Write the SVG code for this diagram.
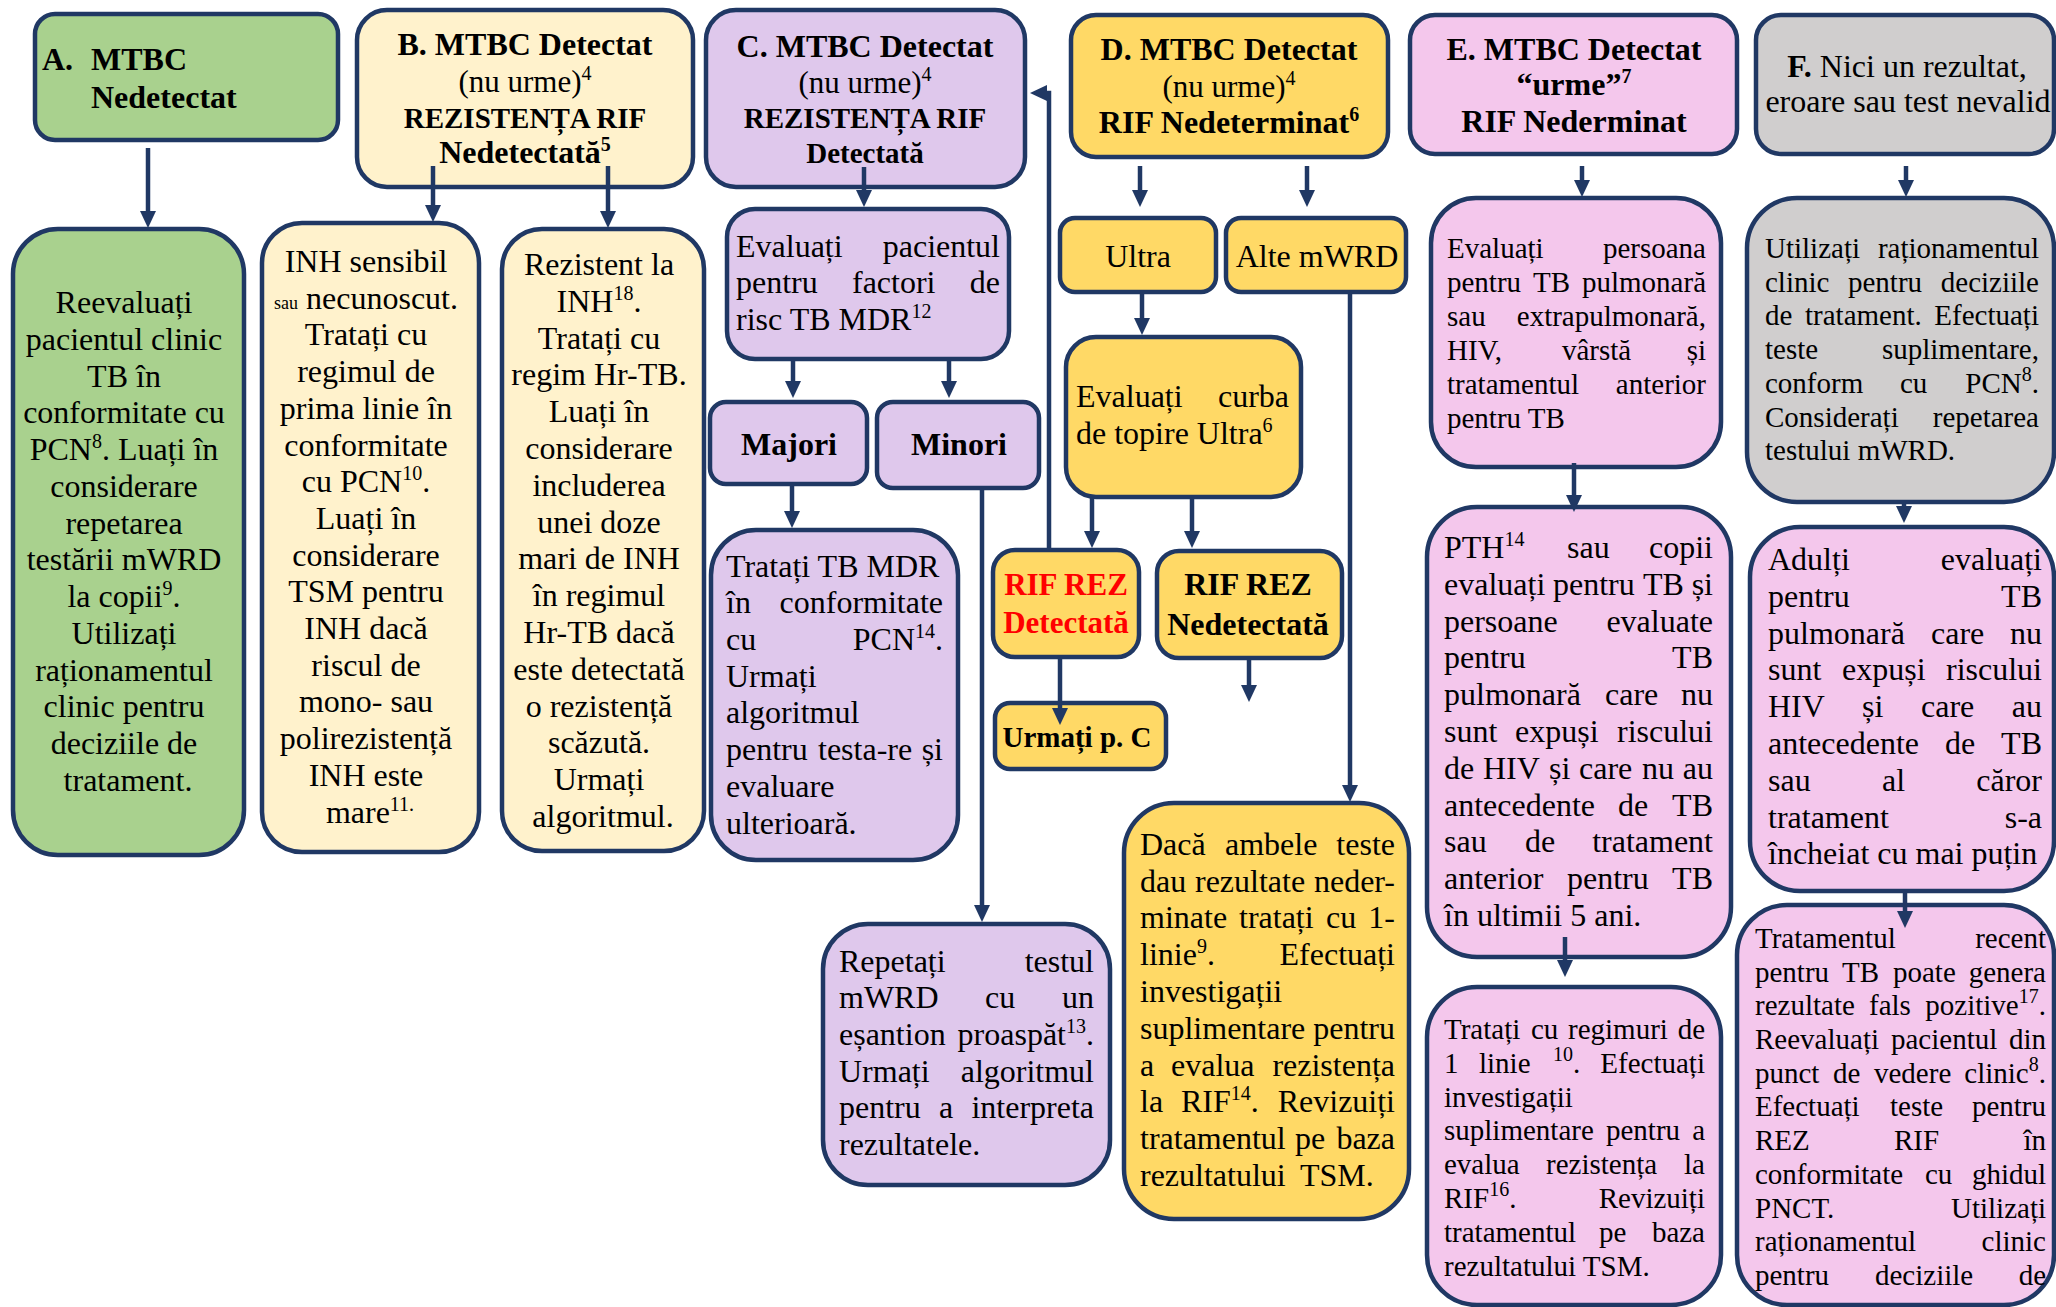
<svg xmlns="http://www.w3.org/2000/svg" width="2056" height="1307" viewBox="0 0 2056 1307">
<defs>
<style>
text{font-family:"Liberation Serif","Times New Roman",serif;font-size:32px;fill:#000}
.box{stroke:#203864;stroke-width:4.5}
.a{fill:#A9D18E}.bb{fill:#FFF2CC}.cc{fill:#DFC8EC}.d{fill:#FFD966}.ee{fill:#F4C7EC}.f{fill:#D0CECE}
.b{font-weight:bold}
.m{text-anchor:middle}
.r{text-anchor:end}
.s{font-size:20px}
.f29{font-size:29px}
.f31{font-size:31px}
.red{fill:#FF0000}
.sm{font-size:18px}
#connectors path{fill:none;stroke:#203864;stroke-width:4.5;marker-end:url(#ah)}
</style>
<marker id="ah" viewBox="0 0 17 16" refX="7" refY="8" markerWidth="17" markerHeight="16" markerUnits="userSpaceOnUse" orient="auto"><path d="M0,0 L17,8 L0,16 z" fill="#203864"/></marker>
</defs>
<rect width="2056" height="1307" fill="#FFFFFF"/>

<g id="A">
<rect class="box a" x="35" y="14" width="303" height="126" rx="20"/>
<text class="b" x="42" y="70">A.</text><text class="b" x="91" y="70">MTBC</text>
<text class="b" x="91" y="108">Nedetectat</text>
</g>
<g id="A1">
<rect class="box a" x="13" y="229" width="231" height="626" rx="45"/>
<text class="m">
<tspan x="128" y="313">Reevaluați</tspan>
<tspan x="128" y="350">pacientul clinic</tspan>
<tspan x="128" y="387">TB în</tspan>
<tspan x="128" y="423">conformitate cu</tspan>
<tspan x="128" y="460">PCN<tspan class="s" dy="-12">8</tspan><tspan dy="12">. Luați în</tspan></tspan>
<tspan x="128" y="497">considerare</tspan>
<tspan x="128" y="534">repetarea</tspan>
<tspan x="128" y="570">testării mWRD</tspan>
<tspan x="128" y="607">la copii<tspan class="s" dy="-12">9</tspan><tspan dy="12">.</tspan></tspan>
<tspan x="128" y="644">Utilizați</tspan>
<tspan x="128" y="681">raționamentul</tspan>
<tspan x="128" y="717">clinic pentru</tspan>
<tspan x="128" y="754">deciziile de</tspan>
<tspan x="128" y="791">tratament.</tspan>
</text>
</g>

<g id="B">
<rect class="box bb" x="357" y="10" width="336" height="177" rx="30"/>
<text class="m b" x="525" y="55">B. MTBC Detectat</text>
<text class="m f31" x="525" y="92">(nu urme)<tspan class="s" dy="-12">4</tspan></text>
<text class="m b f29" x="525" y="128">REZISTENȚA RIF</text>
<text class="m b" x="525" y="163">Nedetectată<tspan class="s" dy="-12">5</tspan></text>
</g>
<g id="B1">
<rect class="box bb" x="262" y="223" width="217" height="629" rx="40"/>
<text class="m">
<tspan x="370" y="272">INH sensibil</tspan>
<tspan x="370" y="309"><tspan class="sm">sau</tspan> necunoscut.</tspan>
<tspan x="370" y="345">Tratați cu</tspan>
<tspan x="370" y="382">regimul de</tspan>
<tspan x="370" y="419">prima linie în</tspan>
<tspan x="370" y="456">conformitate</tspan>
<tspan x="370" y="492">cu PCN<tspan class="s" dy="-12">10</tspan><tspan dy="12">.</tspan></tspan>
<tspan x="370" y="529">Luați în</tspan>
<tspan x="370" y="566">considerare</tspan>
<tspan x="370" y="602">TSM pentru</tspan>
<tspan x="370" y="639">INH dacă</tspan>
<tspan x="370" y="676">riscul de</tspan>
<tspan x="370" y="712">mono- sau</tspan>
<tspan x="370" y="749">polirezistență</tspan>
<tspan x="370" y="786">INH este</tspan>
<tspan x="370" y="823">mare<tspan class="s" dy="-12">11.</tspan></tspan>
</text>
</g>
<g id="B2">
<rect class="box bb" x="502" y="229" width="202" height="622" rx="40"/>
<text class="m">
<tspan x="603" y="275">Rezistent la</tspan>
<tspan x="603" y="312">INH<tspan class="s" dy="-12">18</tspan><tspan dy="12">.</tspan></tspan>
<tspan x="603" y="349">Tratați cu</tspan>
<tspan x="603" y="385">regim Hr-TB.</tspan>
<tspan x="603" y="422">Luați în</tspan>
<tspan x="603" y="459">considerare</tspan>
<tspan x="603" y="496">includerea</tspan>
<tspan x="603" y="533">unei doze</tspan>
<tspan x="603" y="569">mari de INH</tspan>
<tspan x="603" y="606">în regimul</tspan>
<tspan x="603" y="643">Hr-TB dacă</tspan>
<tspan x="603" y="680">este detectată</tspan>
<tspan x="603" y="717">o rezistență</tspan>
<tspan x="603" y="753">scăzută.</tspan>
<tspan x="603" y="790">Urmați</tspan>
<tspan x="603" y="827">algoritmul.</tspan>
</text>
</g>

<g id="C">
<rect class="box cc" x="706" y="10" width="319" height="177" rx="30"/>
<text class="m b" x="865" y="57">C. MTBC Detectat</text>
<text class="m f31" x="865" y="93">(nu urme)<tspan class="s" dy="-12">4</tspan></text>
<text class="m b f29" x="865" y="128">REZISTENȚA RIF</text>
<text class="m b f29" x="865" y="163">Detectată</text>
</g>
<g id="C1">
<rect class="box cc" x="727" y="209" width="282" height="150" rx="28"/>
<text x="736" y="257">Evaluați</text><text class="r" x="1000" y="257">pacientul</text>
<text x="736" y="293">pentru</text><text x="852" y="293">factori</text><text class="r" x="1000" y="293">de</text>
<text x="736" y="330">risc TB MDR<tspan class="s" dy="-12">12</tspan></text>
</g>
<g id="C2">
<rect class="box cc" x="710" y="402" width="157" height="82" rx="16"/>
<text class="m b" x="789" y="455">Majori</text>
</g>
<g id="C3">
<rect class="box cc" x="877" y="402" width="162" height="86" rx="16"/>
<text class="m b" x="959" y="455">Minori</text>
</g>
<g id="C4">
<rect class="box cc" x="711" y="530" width="247" height="330" rx="45"/>
<text x="726" y="577">Tratați TB MDR</text>
<text x="726" y="613">în</text><text class="r" x="943" y="613">conformitate</text>
<text x="726" y="650">cu</text><text class="r" x="943" y="650">PCN<tspan class="s" dy="-12">14</tspan><tspan dy="12">.</tspan></text>
<text x="726" y="687">Urmați</text>
<text x="726" y="723">algoritmul</text>
<text x="726" y="760">pentru</text><text x="818" y="760">testa-re</text><text class="r" x="943" y="760">și</text>
<text x="726" y="797">evaluare</text>
<text x="726" y="834">ulterioară.</text>
</g>
<g id="C5">
<rect class="box cc" x="823" y="924" width="287" height="261" rx="45"/>
<text x="839" y="972">Repetați</text><text class="r" x="1094" y="972">testul</text>
<text x="839" y="1008">mWRD</text><text x="985" y="1008">cu</text><text class="r" x="1094" y="1008">un</text>
<text x="839" y="1045">eșantion</text><text class="r" x="1094" y="1045">proaspăt<tspan class="s" dy="-12">13</tspan><tspan dy="12">.</tspan></text>
<text x="839" y="1082">Urmați</text><text class="r" x="1094" y="1082">algoritmul</text>
<text x="839" y="1118">pentru</text><text x="939" y="1118">a</text><text class="r" x="1094" y="1118">interpreta</text>
<text x="839" y="1155">rezultatele.</text>
</g>

<g id="D">
<rect class="box d" x="1071" y="15" width="317" height="142" rx="25"/>
<text class="m b" x="1229" y="60">D. MTBC Detectat</text>
<text class="m f31" x="1229" y="97">(nu urme)<tspan class="s" dy="-12">4</tspan></text>
<text class="m b" x="1229" y="133">RIF Nedeterminat<tspan class="s" dy="-12">6</tspan></text>
</g>
<g id="D1">
<rect class="box d" x="1060" y="218" width="156" height="74" rx="15"/>
<text class="m" x="1138" y="267">Ultra</text>
</g>
<g id="D2">
<rect class="box d" x="1226" y="218" width="180" height="74" rx="15"/>
<text class="m" x="1317" y="267">Alte mWRD</text>
</g>
<g id="D3">
<rect class="box d" x="1066" y="337" width="235" height="160" rx="30"/>
<text x="1076" y="407">Evaluați</text><text class="r" x="1289" y="407">curba</text>
<text x="1076" y="444">de topire Ultra<tspan class="s" dy="-12">6</tspan></text>
</g>
<g id="D4">
<rect class="box d" x="993" y="550" width="146" height="107" rx="22"/>
<text class="m b f31 red" x="1066" y="595">RIF REZ</text>
<text class="m b f31 red" x="1066" y="633">Detectată</text>
</g>
<g id="D5">
<rect class="box d" x="1157" y="551" width="185" height="107" rx="22"/>
<text class="m b" x="1248" y="595">RIF REZ</text>
<text class="m b" x="1248" y="635">Nedetectată</text>
</g>
<g id="D6">
<rect class="box d" x="995" y="703" width="171" height="66" rx="15"/>
<text class="m b f29" x="1077" y="747">Urmați p. C</text>
</g>
<g id="D7">
<rect class="box d" x="1124" y="803" width="285" height="416" rx="50"/>
<text x="1140" y="855">Dacă</text><text x="1225" y="855">ambele</text><text class="r" x="1395" y="855">teste</text>
<text x="1140" y="892">dau</text><text x="1195" y="892">rezultate</text><text class="r" x="1395" y="892">neder-</text>
<text x="1140" y="928">minate</text><text x="1239" y="928">tratați</text><text x="1326" y="928">cu</text><text class="r" x="1395" y="928">1-</text>
<text x="1140" y="965">linie<tspan class="s" dy="-12">9</tspan><tspan dy="12">.</tspan></text><text class="r" x="1395" y="965">Efectuați</text>
<text x="1140" y="1002">investigații</text>
<text x="1140" y="1039">suplimentare</text><text class="r" x="1395" y="1039">pentru</text>
<text x="1140" y="1076">a</text><text x="1171" y="1076">evalua</text><text class="r" x="1395" y="1076">rezistența</text>
<text x="1140" y="1112">la</text><text x="1181" y="1112">RIF<tspan class="s" dy="-12">14</tspan><tspan dy="12">.</tspan></text><text class="r" x="1395" y="1112">Revizuiți</text>
<text x="1140" y="1149">tratamentul</text><text x="1295" y="1149">pe</text><text class="r" x="1395" y="1149">baza</text>
<text x="1140" y="1186">rezultatului</text><text x="1300" y="1186">TSM.</text>
</g>

<g id="E">
<rect class="box ee" x="1410" y="15" width="327" height="139" rx="25"/>
<text class="m b" x="1574" y="60">E. MTBC Detectat</text>
<text class="m b" x="1574" y="95">“urme”<tspan class="s" dy="-12">7</tspan></text>
<text class="m b" x="1574" y="132">RIF Nederminat</text>
</g>
<g id="E1">
<rect class="box ee" x="1431" y="198" width="290" height="269" rx="45"/>
<text class="f29" x="1447" y="258">Evaluați</text><text class="f29 r" x="1706" y="258">persoana</text>
<text class="f29" x="1447" y="292">pentru</text><text class="f29" x="1533" y="292">TB</text><text class="f29 r" x="1706" y="292">pulmonară</text>
<text class="f29" x="1447" y="326">sau</text><text class="f29 r" x="1706" y="326">extrapulmonară,</text>
<text class="f29" x="1447" y="360">HIV,</text><text class="f29" x="1562" y="360">vârstă</text><text class="f29 r" x="1706" y="360">și</text>
<text class="f29" x="1447" y="394">tratamentul</text><text class="f29 r" x="1706" y="394">anterior</text>
<text class="f29" x="1447" y="428">pentru TB</text>
</g>
<g id="E2">
<rect class="box ee" x="1427" y="507" width="304" height="450" rx="50"/>
<text x="1444" y="558">PTH<tspan class="s" dy="-12">14</tspan></text><text x="1567" y="558">sau</text><text class="r" x="1713" y="558">copii</text>
<text x="1444" y="595">evaluați</text><text x="1553" y="595">pentru</text><text x="1643" y="595">TB</text><text class="r" x="1713" y="595">și</text>
<text x="1444" y="632">persoane</text><text class="r" x="1713" y="632">evaluate</text>
<text x="1444" y="668">pentru</text><text class="r" x="1713" y="668">TB</text>
<text x="1444" y="705">pulmonară</text><text x="1605" y="705">care</text><text class="r" x="1713" y="705">nu</text>
<text x="1444" y="742">sunt</text><text x="1515" y="742">expuși</text><text class="r" x="1713" y="742">riscului</text>
<text x="1444" y="779">de</text><text x="1483" y="779">HIV</text><text x="1549" y="779">și</text><text x="1579" y="779">care</text><text x="1642" y="779">nu</text><text class="r" x="1713" y="779">au</text>
<text x="1444" y="816">antecedente</text><text x="1618" y="816">de</text><text class="r" x="1713" y="816">TB</text>
<text x="1444" y="852">sau</text><text x="1525" y="852">de</text><text class="r" x="1713" y="852">tratament</text>
<text x="1444" y="889">anterior</text><text x="1567" y="889">pentru</text><text class="r" x="1713" y="889">TB</text>
<text x="1444" y="926">în ultimii 5 ani.</text>
</g>
<g id="E3">
<rect class="box ee" x="1427" y="987" width="294" height="318" rx="50"/>
<text class="f29" x="1444" y="1039">Tratați</text><text class="f29" x="1531" y="1039">cu</text><text class="f29" x="1568" y="1039">regimuri</text><text class="f29 r" x="1705" y="1039">de</text>
<text class="f29" x="1444" y="1073">1</text><text class="f29" x="1479" y="1073">linie</text><text class="f29" x="1553" y="1073"><tspan class="s" dy="-12">10</tspan><tspan dy="12">.</tspan></text><text class="f29 r" x="1705" y="1073">Efectuați</text>
<text class="f29" x="1444" y="1107">investigații</text>
<text class="f29" x="1444" y="1140">suplimentare</text><text class="f29" x="1606" y="1140">pentru</text><text class="f29 r" x="1705" y="1140">a</text>
<text class="f29" x="1444" y="1174">evalua</text><text class="f29" x="1546" y="1174">rezistența</text><text class="f29 r" x="1705" y="1174">la</text>
<text class="f29" x="1444" y="1208">RIF<tspan class="s" dy="-12">16</tspan><tspan dy="12">.</tspan></text><text class="f29 r" x="1705" y="1208">Revizuiți</text>
<text class="f29" x="1444" y="1242">tratamentul</text><text class="f29" x="1599" y="1242">pe</text><text class="f29 r" x="1705" y="1242">baza</text>
<text class="f29" x="1444" y="1276">rezultatului TSM.</text>
</g>

<g id="F">
<rect class="box f" x="1756" y="15" width="298" height="139" rx="25"/>
<text class="m" x="1907" y="77"><tspan class="b">F.</tspan> Nici un rezultat,</text>
<text class="m" x="1908" y="112">eroare sau test nevalid</text>
</g>
<g id="F1">
<rect class="box f" x="1747" y="198" width="307" height="304" rx="50"/>
<text class="f29" x="1765" y="258">Utilizați</text><text class="f29 r" x="2039" y="258">raționamentul</text>
<text class="f29" x="1765" y="292">clinic</text><text class="f29" x="1848" y="292">pentru</text><text class="f29 r" x="2039" y="292">deciziile</text>
<text class="f29" x="1765" y="325">de</text><text class="f29" x="1805" y="325">tratament.</text><text class="f29 r" x="2039" y="325">Efectuați</text>
<text class="f29" x="1765" y="359">teste</text><text class="f29 r" x="2039" y="359">suplimentare,</text>
<text class="f29" x="1765" y="393">conform</text><text class="f29" x="1900" y="393">cu</text><text class="f29 r" x="2039" y="393">PCN<tspan class="s" dy="-12">8</tspan><tspan dy="12">.</tspan></text>
<text class="f29" x="1765" y="427">Considerați</text><text class="f29 r" x="2039" y="427">repetarea</text>
<text class="f29" x="1765" y="460">testului mWRD.</text>
</g>
<g id="F2">
<rect class="box ee" x="1750" y="527" width="304" height="364" rx="50"/>
<text x="1768" y="570">Adulți</text><text class="r" x="2042" y="570">evaluați</text>
<text x="1768" y="607">pentru</text><text class="r" x="2042" y="607">TB</text>
<text x="1768" y="644">pulmonară</text><text x="1931" y="644">care</text><text class="r" x="2042" y="644">nu</text>
<text x="1768" y="680">sunt</text><text x="1842" y="680">expuși</text><text class="r" x="2042" y="680">riscului</text>
<text x="1768" y="717">HIV</text><text x="1862" y="717">și</text><text x="1921" y="717">care</text><text class="r" x="2042" y="717">au</text>
<text x="1768" y="754">antecedente</text><text x="1945" y="754">de</text><text class="r" x="2042" y="754">TB</text>
<text x="1768" y="791">sau</text><text x="1882" y="791">al</text><text class="r" x="2042" y="791">căror</text>
<text x="1768" y="828">tratament</text><text class="r" x="2042" y="828">s-a</text>
<text x="1768" y="864">încheiat cu mai puțin</text>
</g>
<g id="F3">
<rect class="box ee" x="1737" y="905" width="317" height="400" rx="50"/>
<text class="f29" x="1755" y="948">Tratamentul</text><text class="f29 r" x="2046" y="948">recent</text>
<text class="f29" x="1755" y="982">pentru</text><text class="f29" x="1842" y="982">TB</text><text class="f29" x="1893" y="982">poate</text><text class="f29 r" x="2046" y="982">genera</text>
<text class="f29" x="1755" y="1015">rezultate</text><text class="f29" x="1869" y="1015">fals</text><text class="f29 r" x="2046" y="1015">pozitive<tspan class="s" dy="-12">17</tspan><tspan dy="12">.</tspan></text>
<text class="f29" x="1755" y="1049">Reevaluați</text><text class="f29" x="1891" y="1049">pacientul</text><text class="f29 r" x="2046" y="1049">din</text>
<text class="f29" x="1755" y="1083">punct</text><text class="f29" x="1833" y="1083">de</text><text class="f29" x="1874" y="1083">vedere</text><text class="f29 r" x="2046" y="1083">clinic<tspan class="s" dy="-12">8</tspan><tspan dy="12">.</tspan></text>
<text class="f29" x="1755" y="1116">Efectuați</text><text class="f29" x="1890" y="1116">teste</text><text class="f29 r" x="2046" y="1116">pentru</text>
<text class="f29" x="1755" y="1150">REZ</text><text class="f29" x="1894" y="1150">RIF</text><text class="f29 r" x="2046" y="1150">în</text>
<text class="f29" x="1755" y="1184">conformitate</text><text class="f29" x="1925" y="1184">cu</text><text class="f29 r" x="2046" y="1184">ghidul</text>
<text class="f29" x="1755" y="1218">PNCT.</text><text class="f29 r" x="2046" y="1218">Utilizați</text>
<text class="f29" x="1755" y="1251">raționamentul</text><text class="f29 r" x="2046" y="1251">clinic</text>
<text class="f29" x="1755" y="1285">pentru</text><text class="f29" x="1875" y="1285">deciziile</text><text class="f29 r" x="2046" y="1285">de</text>
</g>

<g id="connectors">
<path d="M148,148 L148,218"/>
<path d="M433,166 L433,212"/>
<path d="M608,166 L608,218"/>
<path d="M864,167 L864,197"/>
<path d="M793,359 L793,388"/>
<path d="M949,359 L949,388"/>
<path d="M792,484 L792,518"/>
<path d="M982,488 L982,912"/>
<path d="M1049,550 L1049,93 L1040,93"/>
<path d="M1140,166 L1140,197"/>
<path d="M1307,166 L1307,197"/>
<path d="M1142,292 L1142,325"/>
<path d="M1350,292 L1350,792"/>
<path d="M1092,497 L1092,538"/>
<path d="M1192,497 L1192,538"/>
<path d="M1060,657 L1060,715"/>
<path d="M1249,658 L1249,692"/>
<path d="M1582,166 L1582,187"/>
<path d="M1574,463 L1574,502"/>
<path d="M1565,937 L1565,967"/>
<path d="M1906,166 L1906,187"/>
<path d="M1904,502 L1904,513"/>
<path d="M1905,892 L1905,918"/>
</g>
</svg>
